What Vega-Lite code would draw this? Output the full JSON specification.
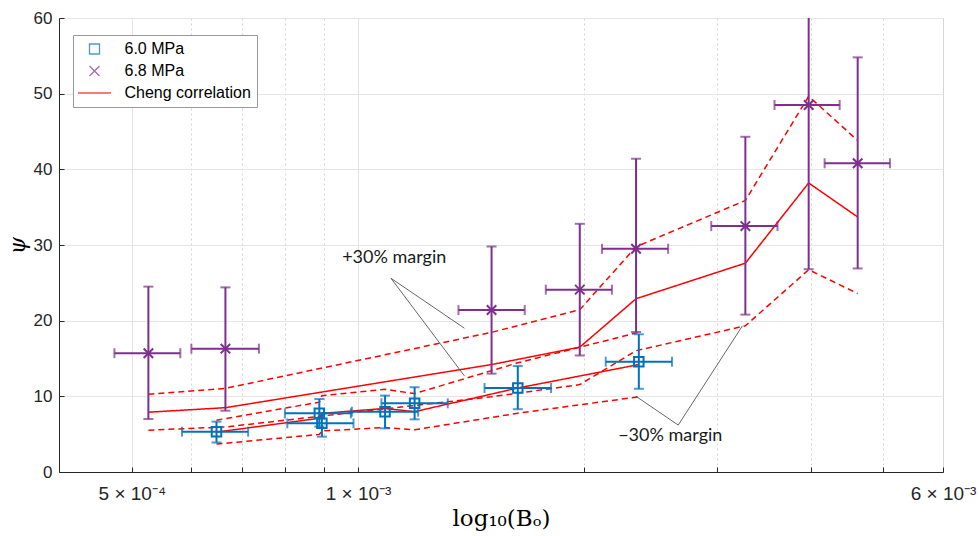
{
  "$schema": "https://vega.github.io/schema/vega-lite/v6.json",
  "width": 884,
  "height": 454,
  "autosize": {"type": "none"},
  "padding": {"left": 59, "top": 18, "right": 36, "bottom": 64},
  "background": "white",
  "config": {
    "view": {"stroke": "#d6d6d6", "strokeWidth": 1},
    "axis": {
      "domainColor": "#262626",
      "tickColor": "#262626",
      "labelColor": "#262626",
      "labelFont": "Liberation Sans",
      "labelFontSize": 17,
      "gridColor": "#e6e6e6",
      "titleColor": "#000000"
    },
    "legend": {
      "orient": "none",
      "legendX": 14,
      "legendY": 17,
      "fillColor": "white",
      "strokeColor": "#9a9a9a",
      "padding": 6,
      "rowPadding": 6,
      "labelFont": "Liberation Sans",
      "labelFontSize": 16,
      "labelColor": "#000000",
      "symbolSize": 100,
      "symbolStrokeWidth": 1.3,
      "symbolOffset": 7.5,
      "labelOffset": 22,
      "symbolOpacity": 0.7
    }
  },
  "datasets": {
    "pts": [
      {"series": "6.0 MPa", "x": 0.000648, "psi": 5.33, "xlo": 0.000583, "xhi": 0.000714, "ylo": 3.9, "yhi": 6.65},
      {"series": "6.0 MPa", "x": 0.000888, "psi": 7.75, "xlo": 0.000799, "xhi": 0.000978, "ylo": 6.0, "yhi": 9.65},
      {"series": "6.0 MPa", "x": 0.000895, "psi": 6.43, "xlo": 0.000805, "xhi": 0.000986, "ylo": 4.67, "yhi": 7.75},
      {"series": "6.0 MPa", "x": 0.001086, "psi": 7.97, "xlo": 0.000981, "xhi": 0.001202, "ylo": 5.77, "yhi": 10.1},
      {"series": "6.0 MPa", "x": 0.001189, "psi": 9.08, "xlo": 0.001074, "xhi": 0.001316, "ylo": 6.96, "yhi": 11.2},
      {"series": "6.0 MPa", "x": 0.001631, "psi": 11.1, "xlo": 0.001473, "xhi": 0.001806, "ylo": 8.3, "yhi": 14.0},
      {"series": "6.0 MPa", "x": 0.002363, "psi": 14.58, "xlo": 0.002135, "xhi": 0.002616, "ylo": 11.0, "yhi": 18.2},
      {"series": "6.8 MPa", "x": 0.000526, "psi": 15.7, "xlo": 0.000474, "xhi": 0.00058, "ylo": 7.0, "yhi": 24.5},
      {"series": "6.8 MPa", "x": 0.000666, "psi": 16.3, "xlo": 0.0006, "xhi": 0.000738, "ylo": 8.1, "yhi": 24.4},
      {"series": "6.8 MPa", "x": 0.001505, "psi": 21.4, "xlo": 0.00136, "xhi": 0.001666, "ylo": 13.0, "yhi": 29.8},
      {"series": "6.8 MPa", "x": 0.001972, "psi": 24.1, "xlo": 0.001777, "xhi": 0.002176, "ylo": 15.4, "yhi": 32.8},
      {"series": "6.8 MPa", "x": 0.002343, "psi": 29.5, "xlo": 0.002111, "xhi": 0.002585, "ylo": 18.5, "yhi": 41.4},
      {"series": "6.8 MPa", "x": 0.003275, "psi": 32.5, "xlo": 0.00295, "xhi": 0.003614, "ylo": 20.8, "yhi": 44.3},
      {"series": "6.8 MPa", "x": 0.003976, "psi": 48.5, "xlo": 0.003581, "xhi": 0.004372, "ylo": 26.8, "yhi": 72},
      {"series": "6.8 MPa", "x": 0.00462, "psi": 40.8, "xlo": 0.004175, "xhi": 0.0051, "ylo": 26.9, "yhi": 54.8}
    ],
    "lines": [
      {"series": "Cheng correlation", "curve": "6.0 central", "band": "central", "x": 0.000648, "psi": 5.27},
      {"series": "Cheng correlation", "curve": "6.0 central", "band": "central", "x": 0.000888, "psi": 7.1},
      {"series": "Cheng correlation", "curve": "6.0 central", "band": "central", "x": 0.000895, "psi": 7.75},
      {"series": "Cheng correlation", "curve": "6.0 central", "band": "central", "x": 0.001086, "psi": 8.4},
      {"series": "Cheng correlation", "curve": "6.0 central", "band": "central", "x": 0.001189, "psi": 7.97},
      {"series": "Cheng correlation", "curve": "6.0 central", "band": "central", "x": 0.001631, "psi": 11.1},
      {"series": "Cheng correlation", "curve": "6.0 central", "band": "central", "x": 0.002363, "psi": 14.2},
      {"series": "Cheng correlation", "curve": "6.0 plus", "band": "+30%", "x": 0.000648, "psi": 6.85},
      {"series": "Cheng correlation", "curve": "6.0 plus", "band": "+30%", "x": 0.000888, "psi": 9.23},
      {"series": "Cheng correlation", "curve": "6.0 plus", "band": "+30%", "x": 0.000895, "psi": 10.08},
      {"series": "Cheng correlation", "curve": "6.0 plus", "band": "+30%", "x": 0.001086, "psi": 10.92},
      {"series": "Cheng correlation", "curve": "6.0 plus", "band": "+30%", "x": 0.001189, "psi": 10.36},
      {"series": "Cheng correlation", "curve": "6.0 plus", "band": "+30%", "x": 0.001631, "psi": 14.43},
      {"series": "Cheng correlation", "curve": "6.0 plus", "band": "+30%", "x": 0.002363, "psi": 18.46},
      {"series": "Cheng correlation", "curve": "6.0 minus", "band": "-30%", "x": 0.000648, "psi": 3.69},
      {"series": "Cheng correlation", "curve": "6.0 minus", "band": "-30%", "x": 0.000888, "psi": 4.97},
      {"series": "Cheng correlation", "curve": "6.0 minus", "band": "-30%", "x": 0.000895, "psi": 5.43},
      {"series": "Cheng correlation", "curve": "6.0 minus", "band": "-30%", "x": 0.001086, "psi": 5.88},
      {"series": "Cheng correlation", "curve": "6.0 minus", "band": "-30%", "x": 0.001189, "psi": 5.58},
      {"series": "Cheng correlation", "curve": "6.0 minus", "band": "-30%", "x": 0.001631, "psi": 7.77},
      {"series": "Cheng correlation", "curve": "6.0 minus", "band": "-30%", "x": 0.002363, "psi": 9.94},
      {"series": "Cheng correlation", "curve": "6.8 central", "band": "central", "x": 0.000526, "psi": 7.9},
      {"series": "Cheng correlation", "curve": "6.8 central", "band": "central", "x": 0.000666, "psi": 8.5},
      {"series": "Cheng correlation", "curve": "6.8 central", "band": "central", "x": 0.001505, "psi": 14.2},
      {"series": "Cheng correlation", "curve": "6.8 central", "band": "central", "x": 0.001972, "psi": 16.5},
      {"series": "Cheng correlation", "curve": "6.8 central", "band": "central", "x": 0.002343, "psi": 22.9},
      {"series": "Cheng correlation", "curve": "6.8 central", "band": "central", "x": 0.003275, "psi": 27.6},
      {"series": "Cheng correlation", "curve": "6.8 central", "band": "central", "x": 0.003976, "psi": 38.2},
      {"series": "Cheng correlation", "curve": "6.8 central", "band": "central", "x": 0.00462, "psi": 33.7},
      {"series": "Cheng correlation", "curve": "6.8 plus", "band": "+30%", "x": 0.000526, "psi": 10.27},
      {"series": "Cheng correlation", "curve": "6.8 plus", "band": "+30%", "x": 0.000666, "psi": 11.05},
      {"series": "Cheng correlation", "curve": "6.8 plus", "band": "+30%", "x": 0.001505, "psi": 18.46},
      {"series": "Cheng correlation", "curve": "6.8 plus", "band": "+30%", "x": 0.001972, "psi": 21.45},
      {"series": "Cheng correlation", "curve": "6.8 plus", "band": "+30%", "x": 0.002343, "psi": 29.77},
      {"series": "Cheng correlation", "curve": "6.8 plus", "band": "+30%", "x": 0.003275, "psi": 35.88},
      {"series": "Cheng correlation", "curve": "6.8 plus", "band": "+30%", "x": 0.003976, "psi": 49.66},
      {"series": "Cheng correlation", "curve": "6.8 plus", "band": "+30%", "x": 0.00462, "psi": 43.81},
      {"series": "Cheng correlation", "curve": "6.8 minus", "band": "-30%", "x": 0.000526, "psi": 5.53},
      {"series": "Cheng correlation", "curve": "6.8 minus", "band": "-30%", "x": 0.000666, "psi": 5.95},
      {"series": "Cheng correlation", "curve": "6.8 minus", "band": "-30%", "x": 0.001505, "psi": 9.94},
      {"series": "Cheng correlation", "curve": "6.8 minus", "band": "-30%", "x": 0.001972, "psi": 11.55},
      {"series": "Cheng correlation", "curve": "6.8 minus", "band": "-30%", "x": 0.002343, "psi": 16.03},
      {"series": "Cheng correlation", "curve": "6.8 minus", "band": "-30%", "x": 0.003275, "psi": 19.32},
      {"series": "Cheng correlation", "curve": "6.8 minus", "band": "-30%", "x": 0.003976, "psi": 26.74},
      {"series": "Cheng correlation", "curve": "6.8 minus", "band": "-30%", "x": 0.00462, "psi": 23.59}
    ],
    "leaders": [
      {"x": 0.001106, "y": 25.6, "x2": 0.001385, "y2": 19.0},
      {"x": 0.001106, "y": 25.6, "x2": 0.001385, "y2": 12.7},
      {"x": 0.002666, "y": 6.2, "x2": 0.002343, "y2": 10.0},
      {"x": 0.002666, "y": 6.2, "x2": 0.003245, "y2": 19.3}
    ],
    "notes": [
      {"x": 0.001117, "y": 28.3, "text": "+30% margin"},
      {"x": 0.002602, "y": 4.76, "text": "−30% margin"}
    ]
  },
  "layer": [
    {
      "data": {"name": "lines"},
      "mark": {"type": "line", "strokeWidth": 1.5, "clip": true},
      "encoding": {
        "x": {
          "field": "x", "type": "quantitative",
          "scale": {"type": "log", "domain": [0.0004, 0.006], "nice": false},
          "axis": {
            "title": "log₁₀(Bₒ)",
            "titleFont": "DejaVu Serif",
            "titleFontSize": 23,
            "titleFontWeight": "normal",
            "titlePadding": 4,
            "values": [0.0005, 0.0006, 0.0007, 0.0008, 0.0009, 0.001, 0.002, 0.003, 0.004, 0.005, 0.006],
            "labelExpr": "abs(datum.value-0.0005)<1e-7 ? '5 × 10⁻⁴' : abs(datum.value-0.001)<1e-7 ? '1 × 10⁻³' : abs(datum.value-0.006)<1e-7 ? '6 × 10⁻³' : ''",
            "labelFontSize": 19,
            "labelFlush": false,
            "labelOverlap": false,
            "labelBound": false,
            "labelPadding": 17,
            "tickSize": -5,
            "grid": true,
            "gridDash": {"condition": {"test": "abs(datum.value-0.0005)<1e-7 || abs(datum.value-0.001)<1e-7", "value": []}, "value": [2, 3]},
            "gridColor": {"condition": {"test": "abs(datum.value-0.0005)<1e-7 || abs(datum.value-0.001)<1e-7", "value": "#e3e3e3"}, "value": "#d4d4d4"}
          }
        },
        "y": {
          "field": "psi", "type": "quantitative",
          "scale": {"domain": [0, 60], "nice": false},
          "axis": {
            "title": "ψ",
            "titleFont": "DejaVu Serif",
            "titleFontStyle": "italic",
            "titleFontSize": 22,
            "titleFontWeight": "normal",
            "titlePadding": 4,
            "values": [0, 10, 20, 30, 40, 50, 60],
            "labelPadding": 12,
            "tickSize": -5,
            "grid": true
          }
        },
        "detail": {"field": "curve"},
        "strokeDash": {
          "field": "band", "type": "nominal",
          "scale": {"domain": ["central", "+30%", "-30%"], "range": [[1, 0], [6, 4], [6, 4]]},
          "legend": null
        },
        "color": {
          "field": "series", "type": "nominal", "title": null,
          "scale": {"domain": ["6.0 MPa", "6.8 MPa", "Cheng correlation"], "range": ["#0072BD", "#7E2F8E", "#FF0000"]}
        }
      }
    },
    {
      "data": {"name": "pts"},
      "mark": {"type": "rule", "strokeWidth": 2, "clip": true},
      "encoding": {
        "x": {"field": "x", "type": "quantitative"},
        "y": {"field": "ylo", "type": "quantitative"},
        "y2": {"field": "yhi"},
        "color": {"condition": {"test": "datum.series === '6.0 MPa'", "value": "#0072BD"}, "value": "#7E2F8E"}
      }
    },
    {
      "data": {"name": "pts"},
      "mark": {"type": "rule", "strokeWidth": 2, "clip": true},
      "encoding": {
        "y": {"field": "psi", "type": "quantitative"},
        "x": {"field": "xlo", "type": "quantitative"},
        "x2": {"field": "xhi"},
        "color": {"condition": {"test": "datum.series === '6.0 MPa'", "value": "#0072BD"}, "value": "#7E2F8E"}
      }
    },
    {
      "data": {"name": "pts"},
      "transform": [{"fold": ["ylo", "yhi"], "as": ["end", "yv"]}],
      "mark": {"type": "tick", "orient": "horizontal", "size": 10, "thickness": 2, "clip": true},
      "encoding": {
        "x": {"field": "x", "type": "quantitative"},
        "y": {"field": "yv", "type": "quantitative"},
        "color": {"condition": {"test": "datum.series === '6.0 MPa'", "value": "#0072BD"}, "value": "#7E2F8E"}
      }
    },
    {
      "data": {"name": "pts"},
      "transform": [{"fold": ["xlo", "xhi"], "as": ["end", "xv"]}],
      "mark": {"type": "tick", "orient": "vertical", "size": 10, "thickness": 2, "clip": true},
      "encoding": {
        "x": {"field": "xv", "type": "quantitative"},
        "y": {"field": "psi", "type": "quantitative"},
        "color": {"condition": {"test": "datum.series === '6.0 MPa'", "value": "#0072BD"}, "value": "#7E2F8E"}
      }
    },
    {
      "data": {"name": "pts"},
      "mark": {"type": "point", "filled": false, "strokeWidth": 2, "size": 90, "opacity": 1},
      "encoding": {
        "x": {"field": "x", "type": "quantitative"},
        "y": {"field": "psi", "type": "quantitative"},
        "color": {"field": "series", "type": "nominal", "title": null},
        "shape": {
          "field": "series", "type": "nominal", "title": null,
          "scale": {"domain": ["6.0 MPa", "6.8 MPa", "Cheng correlation"], "range": ["square", "M-1,-1L1,1M1,-1L-1,1", "M-3.3,0L3.3,0"]}
        }
      }
    },
    {
      "data": {"name": "leaders"},
      "mark": {"type": "rule", "color": "#404040", "strokeWidth": 0.8},
      "encoding": {
        "x": {"field": "x", "type": "quantitative"},
        "y": {"field": "y", "type": "quantitative"},
        "x2": {"field": "x2"},
        "y2": {"field": "y2"}
      }
    },
    {
      "data": {"name": "notes"},
      "mark": {"type": "text", "font": "Lato", "fontSize": 18, "color": "#1a1a1a", "align": "center", "baseline": "middle"},
      "encoding": {
        "x": {"field": "x", "type": "quantitative"},
        "y": {"field": "y", "type": "quantitative"},
        "text": {"field": "text"}
      }
    }
  ]
}
